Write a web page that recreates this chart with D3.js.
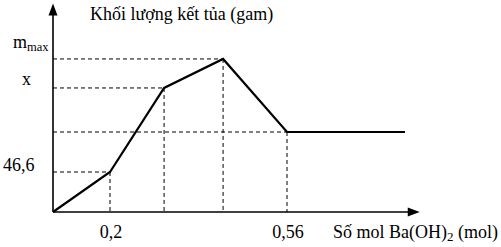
<!DOCTYPE html>
<html><head><meta charset="utf-8">
<script src="https://cdn.jsdelivr.net/npm/d3@7"></script>
<style>
html,body{margin:0;padding:0;background:#fff;}
svg{display:block;}
text{font-family:"Liberation Serif","Times New Roman",serif;fill:#000;}
</style></head>
<body>
<svg id="c" width="501" height="247"></svg>
<script>
// Data (mol Ba(OH)2, mass of precipitate in g; schematic values)
const molValues   = [0, 0.2, 0.31, 0.43, 0.56, 0.8];
const massValues  = [0, 46.6, 144.5, 178.3, 93.2, 93.2];
const xTickValues = [0.2, 0.56];
const xTickLabels = ["0,2", "0,56"];
const yTickValues = [46.6, 144.5, 178.3];
const yTickLabels = ["46,6", "x", "m|max"];
const xDropValues = [0.2, 0.31, 0.43, 0.56];
const title = "Khối lượng kết tủa (gam)";
const xTitle = ["Số mol Ba(OH)", "2", " (mol)"];

const svg = d3.select("#c");
const x = d3.scaleLinear().domain([0, 0.2, 0.56]).range([53, 110, 287]);
const y = d3.scaleLinear().domain([0, 46.6]).range([212, 172]);
const xMax = 0.83, yMax = 243;

// dashed guide lines
const g = svg.append("g").attr("stroke", "#000").attr("stroke-width", 1).attr("stroke-dasharray", "4,3").attr("fill", "none");
const pts = molValues.map((m, i) => [m, massValues[i]]);
[[0.2,46.6],[0.31,144.5],[0.43,178.3],[0.56,93.2]].forEach(p=>{
  g.append("line").attr("x1", x(0)).attr("x2", x(p[0])).attr("y1", y(p[1])).attr("y2", y(p[1]));
});
xDropValues.forEach(v=>{
  const i = molValues.indexOf(v);
  g.append("line").attr("x1", x(v)).attr("x2", x(v)).attr("y1", y(massValues[i])).attr("y2", y(0));
});

// axes
svg.append("line").attr("x1", x(0)).attr("x2", x(xMax)-10).attr("y1", y(0)).attr("y2", y(0)).attr("stroke","#000").attr("stroke-width",1.6);
svg.append("line").attr("x1", x(0)).attr("x2", x(0)).attr("y1", y(0)).attr("y2", y(yMax)+10).attr("stroke","#000").attr("stroke-width",1.6);
const ax = x(xMax), ay = y(0);
svg.append("path").attr("d", `M${ax},${ay} L${ax-12},${ay-4.5} L${ax-12},${ay+4.5} Z`).attr("fill","#000");
const by = y(yMax), bx = x(0);
svg.append("path").attr("d", `M${bx},${by} L${bx-4.5},${by+12} L${bx+4.5},${by+12} Z`).attr("fill","#000");

// data line
svg.append("path").datum(pts)
  .attr("d", d3.line().x(d=>x(d[0])).y(d=>y(d[1])))
  .attr("fill","none").attr("stroke","#000").attr("stroke-width",2.2).attr("stroke-linejoin","miter");

// title
svg.append("text").attr("x", 90).attr("y", 20).attr("font-size", 18).text(title);

// x tick labels
xTickValues.forEach((v,i)=>{
  svg.append("text").attr("x", x(v)+1).attr("y", 238).attr("text-anchor","middle").attr("font-size",18).text(xTickLabels[i]);
});
// x title
const xt = svg.append("text").attr("x", 333).attr("y", 238).attr("font-size", 18);
xt.append("tspan").text(xTitle[0]);
xt.append("tspan").attr("font-size", 13).attr("dy", 3).text(xTitle[1]);
xt.append("tspan").attr("dy", -3).text(xTitle[2]);

// y tick labels
const yLabelX = [3, 22, 13];
const yLabelDy = [-1, -3, -11];
yTickValues.forEach((v,i)=>{
  const t = svg.append("text").attr("x", yLabelX[i]).attr("y", y(v)+yLabelDy[i]).attr("font-size",18);
  const parts = yTickLabels[i].split("|");
  t.append("tspan").text(parts[0]);
  if (parts[1]) t.append("tspan").attr("font-size",12.5).attr("dy",3).text(parts[1]);
});
</script>
</body></html>
